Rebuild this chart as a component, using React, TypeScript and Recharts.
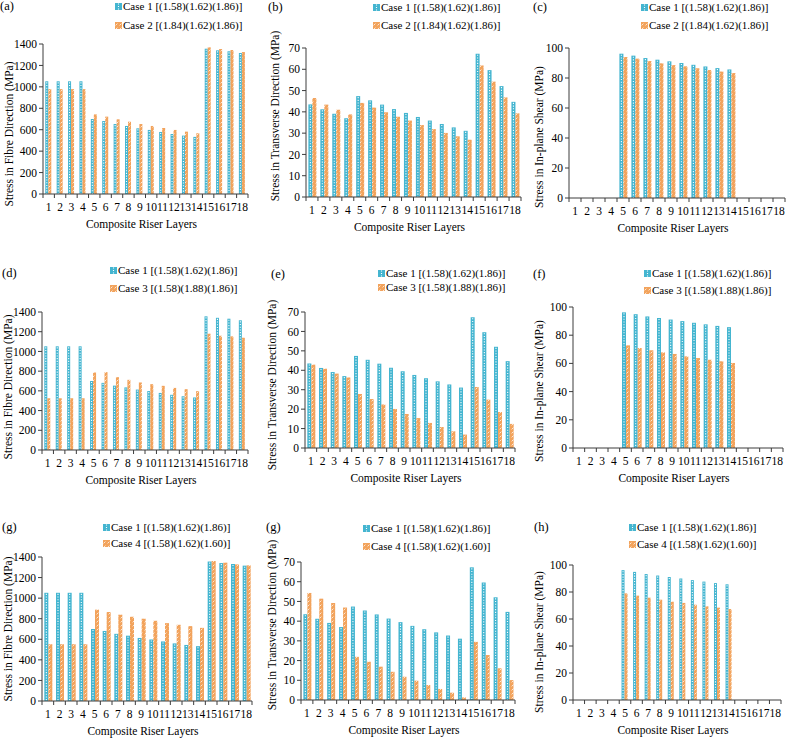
import { BarChart, Bar, XAxis, YAxis, Legend } from "recharts";

const FONT = '"Liberation Serif", "Times New Roman", serif';
const BLUE = "#44b5d0";
const ORANGE = "#f2a35c";
const AXIS = "#3c3c3c";
const Y_W = 30;
const X_H = 20;

const layers = ["1", "2", "3", "4", "5", "6", "7", "8", "9", "10", "11", "12", "13", "14", "15", "16", "17", "18"];

const case1Name = "Case 1 [(1.58)(1.62)(1.86)]";
const case2Name = "Case 2 [(1.84)(1.62)(1.86)]";
const case3Name = "Case 3 [(1.58)(1.88)(1.86)]";
const case4Name = "Case 4 [(1.58)(1.62)(1.60)]";

// fibre direction stress (MPa)
const fibreCase1 = [1052, 1052, 1052, 1052, 700, 681, 653, 635, 613, 598, 579, 560, 545, 533, 1356, 1341, 1332, 1316];
const fibreCase2 = [979, 979, 979, 979, 743, 722, 697, 675, 653, 635, 616, 598, 582, 567, 1369, 1353, 1344, 1325];
const fibreCase3 = [525, 525, 525, 525, 786, 790, 739, 712, 685, 668, 651, 630, 617, 597, 1180, 1159, 1153, 1139];
const fibreCase4 = [552, 552, 552, 552, 888, 865, 839, 819, 800, 780, 757, 741, 728, 711, 1361, 1345, 1328, 1319];

// transverse direction stress (MPa)
const transCase1 = [43.5, 41.2, 39.1, 37, 47.4, 45.4, 43.4, 41.3, 39.5, 37.6, 35.9, 34.3, 32.7, 31.1, 67.3, 59.6, 52.1, 44.7];
const transCase2 = [46.5, 43.4, 41, 38.8, 44.2, 42, 39.8, 37.7, 35.9, 33.8, 31.9, 30.1, 28.5, 26.9, 61.8, 54.2, 46.8, 39.3];
const transCase3 = [42.9, 40.8, 38.3, 36.3, 27.8, 25.2, 22.4, 20.1, 17.5, 15.4, 12.9, 10.8, 8.6, 6.9, 31.4, 24.9, 18.5, 12.4];
const transCase4 = [54.3, 51.4, 49.2, 46.9, 21.9, 19.4, 16.9, 14.3, 11.8, 9.8, 7.6, 5.6, 3.7, 1.3, 29.5, 22.8, 16.1, 10.1];

// in-plane shear stress (MPa), only layers 5-14 carry shear
const shearCase1 = [null, null, null, null, 96.2, 94.9, 93.3, 92.2, 91.1, 90, 88.8, 87.7, 86.6, 85.7, null, null, null, null];
const shearCase2 = [null, null, null, null, 94, 92.9, 91.3, 89.8, 88.6, 87.8, 86.5, 85.3, 84.3, 83.3, null, null, null, null];
const shearCase3 = [null, null, null, null, 72.8, 70.9, 69.3, 67.8, 66.7, 65, 63.8, 62.6, 61.5, 60.3, null, null, null, null];
const shearCase4 = [null, null, null, null, 79, 77.3, 75.8, 74.3, 72.8, 71.9, 70.6, 69.4, 68.4, 67.4, null, null, null, null];

const fibreTicks = [0, 200, 400, 600, 800, 1000, 1200, 1400];
const transTicks = [0, 10, 20, 30, 40, 50, 60, 70];
const shearTicks = [0, 20, 40, 60, 80, 100];

const fibreTitle = "Stress in Fibre Direction (MPa)";
const transTitle = "Stress in Transverse Direction (MPa)";
const shearTitle = "Stress in In-plane Shear (MPa)";
const xTitle = "Composite Riser Layers";

type Spec = {
  tag: string;
  cell: number[]; // left, top, width, height
  plot: number[]; // left, top, right, bottom
  base: (number | null)[];
  other: (number | null)[];
  otherName: string;
  ticks: number[];
  yTitle: string;
  titleX: number; // centre of the rotated y title, page coords
  titleY: number;
  legend: number[]; // x, first line centre, line gap
  tagPos: number[];
};

const specs: Spec[] = [
  { tag: "(a)", cell: [0, 0, 263, 250], plot: [43, 44, 248, 194], base: fibreCase1, other: fibreCase2, otherName: case2Name, ticks: fibreTicks, yTitle: fibreTitle, titleX: 9, titleY: 134, legend: [115, 6, 19], tagPos: [0, 6] },
  { tag: "(b)", cell: [263, 0, 263, 250], plot: [306, 48, 521, 197], base: transCase1, other: transCase2, otherName: case2Name, ticks: transTicks, yTitle: transTitle, titleX: 275, titleY: 116, legend: [110, 7, 18], tagPos: [5, 7] },
  { tag: "(c)", cell: [526, 0, 262, 250], plot: [569, 48, 785, 198], base: shearCase1, other: shearCase2, otherName: case2Name, ticks: shearTicks, yTitle: shearTitle, titleX: 539, titleY: 137, legend: [115, 7, 18], tagPos: [7, 7] },
  { tag: "(d)", cell: [0, 250, 263, 245], plot: [42, 312, 248, 450], base: fibreCase1, other: fibreCase3, otherName: case3Name, ticks: fibreTicks, yTitle: fibreTitle, titleX: 8, titleY: 387, legend: [110, 20, 18], tagPos: [2, 23] },
  { tag: "(e)", cell: [263, 250, 263, 245], plot: [305, 312, 515, 448], base: transCase1, other: transCase3, otherName: case3Name, ticks: transTicks, yTitle: transTitle, titleX: 272, titleY: 385, legend: [115, 23, 14], tagPos: [8, 24] },
  { tag: "(f)", cell: [526, 250, 262, 245], plot: [573, 307, 783, 448], base: shearCase1, other: shearCase3, otherName: case3Name, ticks: shearTicks, yTitle: shearTitle, titleX: 539, titleY: 391, legend: [118, 23, 17], tagPos: [7, 24] },
  { tag: "(g)", cell: [0, 495, 263, 244], plot: [42, 557, 252, 701], base: fibreCase1, other: fibreCase4, otherName: case4Name, ticks: fibreTicks, yTitle: fibreTitle, titleX: 8, titleY: 629, legend: [103, 32, 16], tagPos: [2, 32] },
  { tag: "(g)", cell: [263, 495, 263, 244], plot: [301, 562, 515, 700], base: transCase1, other: transCase4, otherName: case4Name, ticks: transTicks, yTitle: transTitle, titleX: 272, titleY: 625, legend: [100, 33, 18], tagPos: [3, 32] },
  { tag: "(h)", cell: [526, 495, 262, 244], plot: [573, 565, 781, 700], base: shearCase1, other: shearCase4, otherName: case4Name, ticks: shearTicks, yTitle: shearTitle, titleX: 539, titleY: 642, legend: [103, 32, 17], tagPos: [8, 32] },
];

// blue bars: solid fill with a dotted white stripe down the middle
function DottedBar(props: any) {
  const { x, y, width, height } = props;
  if (!(height > 0)) return null;
  const cx = x + width / 2;
  return (
    <g>
      <rect x={x} y={y} width={width} height={height} fill={BLUE} />
      <line x1={cx} x2={cx} y1={y + 1} y2={y + height} stroke="#ffffff" strokeWidth={1.1} strokeDasharray="1.1 1.6" />
    </g>
  );
}

// orange bars: diagonal white hatching
function HatchedBar(props: any) {
  const { x, y, width, height } = props;
  if (!(height > 0)) return null;
  return <rect x={x} y={y} width={width} height={height} fill="url(#orangeHatch)" />;
}

function Swatch({ dotted }: { dotted: boolean }) {
  return (
    <svg width={7} height={7} style={{ marginRight: 1, flex: "none" }}>
      {dotted ? (
        <>
          <rect x={0} y={0} width={7} height={7} fill={BLUE} />
          <line x1={3.5} x2={3.5} y1={0.5} y2={7} stroke="#fff" strokeWidth={1.1} strokeDasharray="1.1 1.4" />
        </>
      ) : (
        <rect x={0} y={0} width={7} height={7} fill="url(#orangeHatch)" />
      )}
    </svg>
  );
}

function StressPanel({ spec }: { spec: Spec }) {
  const [cl, ct, cw, ch] = spec.cell;
  const [pl, pt, pr, pb] = spec.plot;
  const band = (pr - pl) / layers.length;
  const data = layers.map((layer, i) => ({ layer, case1: spec.base[i], other: spec.other[i] }));
  const [lx, ly, gap] = spec.legend;

  const layerTick = (p: any) => {
    const { x, y, index } = p;
    return (
      <g>
        <line x1={x - band / 2} x2={x - band / 2} y1={y} y2={y + 4} stroke={AXIS} />
        {index === layers.length - 1 && <line x1={x + band / 2} x2={x + band / 2} y1={y} y2={y + 4} stroke={AXIS} />}
        <text x={x} y={y + 13} textAnchor="middle" dominantBaseline="central" fontSize={11.5} fontFamily={FONT} fill="#000">
          {p.payload.value}
        </text>
      </g>
    );
  };

  const yTitle = () => {
    const cx = spec.titleX - cl;
    const cy = spec.titleY - ct;
    return (
      <text x={cx} y={cy} transform={`rotate(-90 ${cx} ${cy})`} textAnchor="middle" dominantBaseline="central" fontSize={11.5} fontFamily={FONT} fill="#000">
        {spec.yTitle}
      </text>
    );
  };

  const xTitleLabel = () => (
    <text x={(pl + pr) / 2 - cl - 4} y={pb - ct + 30} textAnchor="middle" dominantBaseline="central" fontSize={11.5} fontFamily={FONT} fill="#000">
      {xTitle}
    </text>
  );

  const legendContent = (p: any) => (
    <div style={{ fontFamily: FONT, fontSize: 11, color: "#000" }}>
      {(p.payload ?? []).map((item: any) => (
        <div key={item.value} style={{ display: "flex", alignItems: "center", height: gap, whiteSpace: "nowrap" }}>
          <Swatch dotted={item.dataKey === "case1"} />
          <span>{item.value}</span>
        </div>
      ))}
    </div>
  );

  return (
    <div style={{ position: "absolute", left: cl, top: ct, width: cw, height: ch }}>
      <div style={{ position: "absolute", left: spec.tagPos[0], top: spec.tagPos[1] - 8, fontFamily: FONT, fontSize: 12.5, lineHeight: "16px", color: "#000" }}>
        {spec.tag}
      </div>
      <BarChart
        width={cw}
        height={ch}
        data={data}
        barCategoryGap="20%"
        barGap={0}
        margin={{ top: pt - ct, right: cl + cw - pr, bottom: ct + ch - pb - X_H, left: pl - cl - Y_W }}
      >
        <XAxis dataKey="layer" height={X_H} interval={0} tickLine={false} tickSize={0} tickMargin={0} stroke={AXIS} tick={layerTick} label={{ content: xTitleLabel }} />
        <YAxis width={Y_W} domain={[0, spec.ticks[spec.ticks.length - 1]]} ticks={spec.ticks} interval={0} tickSize={4} tickMargin={2} stroke={AXIS} tick={{ fontSize: 11.5, fill: "#000", fontFamily: FONT }} label={{ content: yTitle }} />
        <Legend layout="vertical" align="center" verticalAlign="middle" content={legendContent} wrapperStyle={{ left: lx, top: ly - gap / 2, width: "auto" }} />
        <Bar dataKey="case1" name={case1Name} fill={BLUE} shape={DottedBar} isAnimationActive={false} />
        <Bar dataKey="other" name={spec.otherName} fill={ORANGE} shape={HatchedBar} isAnimationActive={false} />
      </BarChart>
    </div>
  );
}

export default function App() {
  return (
    <div style={{ position: "absolute", left: 0, top: 0, width: 788, height: 739, background: "#fff", fontFamily: FONT }}>
      <svg width={0} height={0} style={{ position: "absolute" }}>
        <defs>
          <pattern id="orangeHatch" patternUnits="userSpaceOnUse" width={4} height={4}>
            <rect x={0} y={0} width={4} height={4} fill={ORANGE} />
            <path d="M0.6,3.4 L2.4,1.6" stroke="#ffffff" strokeWidth={0.9} strokeOpacity={0.85} />
          </pattern>
        </defs>
      </svg>
      {specs.map((s, i) => (
        <StressPanel key={i} spec={s} />
      ))}
    </div>
  );
}
